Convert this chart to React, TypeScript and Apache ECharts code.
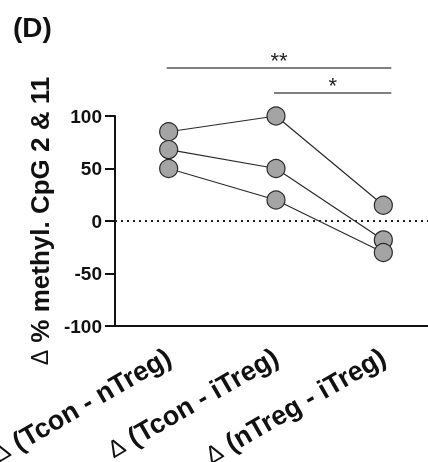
import React, { useEffect, useRef } from "react";
import * as echarts from "echarts";

const categories = ["(Tcon - nTreg)", "(Tcon - iTreg)", "(nTreg - iTreg)"];
const donor1 = [85, 100, 15];
const donor2 = [68, 50, -18];
const donor3 = [50, 20, -30];
const yTicks = { min: -100, max: 100, interval: 50 };
const brackets = [
  { from: 0, to: 2, label: "**", y: 68 },
  { from: 1, to: 2, label: "*", y: 93 },
];

const FONT = "'Liberation Sans', Arial, sans-serif";

export default function App() {
  const ref = useRef<HTMLDivElement>(null);
  useEffect(() => {
    if (!ref.current) return;
    const chart = echarts.init(ref.current, null, { renderer: "svg" });
    const mkSeries = (data: number[], withZero: boolean) => ({
      type: "line",
      data,
      symbol: "circle",
      symbolSize: 18,
      lineStyle: { color: "#2a2a2a", width: 1.2 },
      itemStyle: { color: "#a4a4a4", borderColor: "#2a2a2a", borderWidth: 1.2 },
      z: 3,
      markLine: withZero
        ? {
            silent: true,
            symbol: "none",
            label: { show: false },
            lineStyle: { color: "#222", type: [2, 4], width: 2 },
            data: [{ yAxis: 0 }],
            z: 1,
          }
        : undefined,
    });
    chart.setOption({
      animation: false,
      textStyle: { fontFamily: FONT },
      title: {
        text: "(D)",
        left: 8,
        top: 8,
        textStyle: { fontSize: 28, fontWeight: "bold", color: "#111", fontFamily: FONT },
      },
      grid: { left: 115, top: 116, right: -9, height: 210, outerBoundsMode: "none", containLabel: false },
      xAxis: {
        type: "category",
        data: categories,
        boundaryGap: true,
        axisLine: { onZero: false, lineStyle: { color: "#111", width: 2 } },
        axisTick: { alignWithLabel: true, length: 8, lineStyle: { width: 2, color: "#111" } },
        axisLabel: {
          rotate: 30,
          margin: 29,
          interval: 0,
          color: "#111",
          fontSize: 27,
          fontWeight: "bold",
          fontFamily: FONT,
          formatter: (v: string) => "{d|Δ} " + v,
          rich: { d: { fontWeight: "normal", fontSize: 24, color: "#111", fontFamily: FONT } },
        },
      },
      yAxis: {
        type: "value",
        min: yTicks.min,
        max: yTicks.max,
        interval: yTicks.interval,
        name: "{d|Δ} % methyl. CpG 2 & 11",
        nameLocation: "middle",
        nameGap: 62,
        nameTextStyle: {
          fontSize: 26,
          fontWeight: "bold",
          color: "#111",
          fontFamily: FONT,
          rich: { d: { fontWeight: "normal", fontSize: 23, color: "#111", fontFamily: FONT } },
        },
        splitLine: { show: false },
        axisLine: { show: true, lineStyle: { color: "#111", width: 2 } },
        axisTick: { show: true, length: 10, lineStyle: { width: 2, color: "#111" } },
        axisLabel: { margin: 13, color: "#111", fontSize: 19, fontWeight: "bold", fontFamily: FONT },
      },
      series: [mkSeries(donor1, true), mkSeries(donor2, false), mkSeries(donor3, false)],
    });
    const graphics: any[] = [];
    brackets.forEach((b) => {
      const x1 = chart.convertToPixel({ xAxisIndex: 0 }, b.from) as number;
      const x2 = chart.convertToPixel({ xAxisIndex: 0 }, b.to) as number;
      const l = x1 - 2;
      const r = x2 + 8;
      graphics.push({
        type: "line",
        shape: { x1: l, y1: b.y, x2: r, y2: b.y },
        style: { stroke: "#555", lineWidth: 1.5 },
      });
      graphics.push({
        type: "text",
        x: (l + r) / 2,
        y: b.y - 8,
        style: {
          text: b.label,
          fontSize: 22,
          fontFamily: FONT,
          fill: "#222",
          align: "center",
          verticalAlign: "middle",
        },
      });
    });
    chart.setOption({ graphic: graphics });
    return () => chart.dispose();
  }, []);
  return (
    <div
      ref={ref}
      style={{ position: "fixed", left: 0, top: 0, width: 428, height: 462 }}
    />
  );
}
